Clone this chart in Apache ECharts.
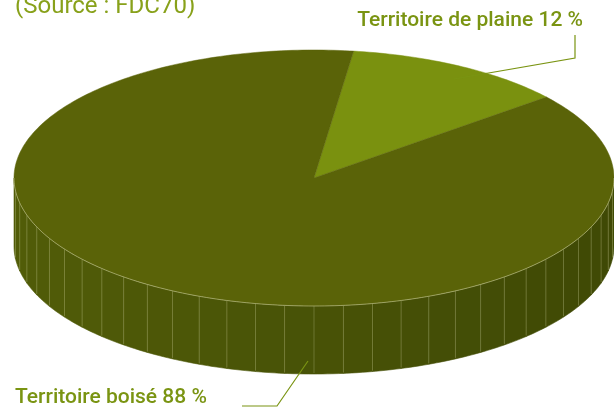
<!DOCTYPE html>
<html>
<head>
<meta charset="utf-8">
<title>Territoire</title>
<script src="https://cdn.jsdelivr.net/npm/echarts@6/dist/echarts.min.js"></script>
</head>
<body style="margin:0;background:#fff">
<div id="main" style="width:614px;height:408px;"></div>
<script>
// data
var names = ['Territoire de plaine', 'Territoire boisé'];
var values = [12, 88];
var source = '(Source : FDC70)';

// colours per slice
var topColors = ['#7a910f', '#5a6308'];
var sideLeft = ['#6b800c', '#515c08'];
var sideRight = ['#55660a', '#3f4905'];

// label layout (pixels)
var labelPos = [
  { x: 583, y: 21, align: 'right', line: [[454, 79], [575, 58], [575, 35]] },
  { x: 15, y: 398, align: 'left', line: [[308, 361], [277, 406], [242, 406]] }
];

var myChart = echarts.init(document.getElementById('main'));

var total = values.reduce(function (a, b) { return a + b; }, 0);
var startDeg = 7.6; // clockwise from 12 o'clock
var cx = 314, cy = 178, rx = 300, ry = 128, depth = 68;
var step = 5.625;

function pt(t, dy) {
  var r = t * Math.PI / 180;
  return [cx + rx * Math.cos(r), cy + (dy || 0) + ry * Math.sin(r)];
}
function hex(c) {
  return [parseInt(c.substr(1, 2), 16), parseInt(c.substr(3, 2), 16), parseInt(c.substr(5, 2), 16)];
}
function mix(a, b, k) {
  var x = hex(a), y = hex(b);
  return 'rgb(' + [0, 1, 2].map(function (n) { return Math.round(x[n] + (y[n] - x[n]) * k); }).join(',') + ')';
}
function arc(a, b, dy) {
  var pts = [];
  for (var t = a; t < b; t += 1) pts.push(pt(t, dy));
  pts.push(pt(b, dy));
  return pts;
}

function renderItem(params, api) {
  var i = params.dataIndex;
  var cum = 0;
  for (var j = 0; j < i; j++) cum += values[j];
  var t0 = startDeg - 90 + 360 * cum / total;
  var t1 = t0 + 360 * api.value(0) / total;
  var children = [];

  // top face
  children.push({
    type: 'polygon',
    shape: { points: [[cx, cy]].concat(arc(t0, t1)) },
    style: { fill: topColors[i], stroke: topColors[i], lineWidth: 0.5 },
    z2: 10
  });

  // visible side (front half)
  for (var k = -1; k <= 1; k++) {
    var a = Math.max(t0, 360 * k), b = Math.min(t1, 360 * k + 180);
    if (b <= a) continue;
    var s = a;
    while (s < b - 1e-6) {
      var e = Math.min(b, (Math.floor(s / step + 1e-6) + 1) * step);
      var up = arc(s, e);
      var down = arc(s, e, depth).reverse();
      var mid = (s + e) / 2 * Math.PI / 180;
      var fill = mix(sideRight[i], sideLeft[i], (1 - Math.cos(mid)) / 2);
      children.push({
        type: 'polygon',
        shape: { points: up.concat(down) },
        style: { fill: fill, stroke: fill, lineWidth: 0.6 },
        z2: 1
      });
      if (s > 360 * k + 0.5) {
        var p = pt(s);
        children.push({
          type: 'line',
          shape: { x1: p[0], y1: p[1], x2: p[0], y2: p[1] + depth - 1 },
          style: { stroke: 'rgba(215,220,165,0.35)', lineWidth: 0.8 },
          z2: 2
        });
      }
      s = e;
    }
    children.push({
      type: 'polyline',
      shape: { points: arc(a, b) },
      style: { stroke: 'rgba(225,228,185,0.6)', lineWidth: 0.8, fill: null },
      z2: 11
    });
  }

  // label + leader
  var lp = labelPos[i];
  children.push({
    type: 'polyline',
    shape: { points: lp.line },
    style: { stroke: '#7a9412', lineWidth: 1.2, fill: null },
    z2: 20
  });
  children.push({
    type: 'text',
    x: lp.x, y: lp.y,
    style: {
      text: names[i] + ' ' + api.value(0) + ' %',
      fill: '#7a9412',
      font: '500 21px Roboto',
      align: lp.align,
      verticalAlign: 'middle'
    },
    z2: 20
  });

  return { type: 'group', children: children };
}

var option = {
  animation: false,
  graphic: [{
    type: 'text',
    left: 15,
    top: -5,
    style: { text: source, fill: '#88a11a', font: '24px Roboto' }
  }],
  series: [{
    type: 'custom',
    coordinateSystem: 'none',
    silent: true,
    renderItem: renderItem,
    data: values
  }]
};

myChart.setOption(option);
</script>
</body>
</html>
